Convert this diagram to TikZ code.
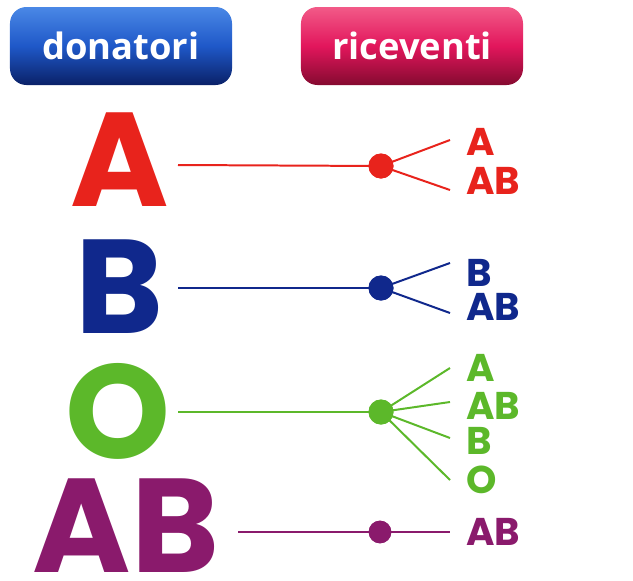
\documentclass[tikz,border=0pt]{standalone}
\usepackage{fontspec}
\setmainfont{Poppins}
\newfontfamily\headfont{Open Sans}
\definecolor{gruppoA}{HTML}{E8231C}
\definecolor{gruppoB}{HTML}{10288C}
\definecolor{gruppoO}{HTML}{5CB82A}
\definecolor{gruppoAB}{HTML}{8A1A6C}
\definecolor{bluchiaro}{HTML}{4A88E6}
\definecolor{blumedio}{HTML}{1F58C8}
\definecolor{bluscuro}{HTML}{0A2168}
\definecolor{rosachiaro}{HTML}{F25A88}
\definecolor{rosamedio}{HTML}{E2165C}
\definecolor{rosascuro}{HTML}{850A30}
\tikzset{
  intestazione/.style={rounded corners=14pt, minimum width=6.66cm, minimum height=2.34cm,
    text=white, font=\headfont\bfseries\fontsize{31}{31}\selectfont},
  donatore/.style={inner sep=0pt, font=\bfseries\fontsize{114}{114}\selectfont},
  ricevente/.style={inner sep=0pt, anchor=west, font=\bfseries\fontsize{33}{33}\selectfont},
  ramo/.style={line width=1.7pt},
  nodo/.style={circle, inner sep=0pt, minimum size=0.75cm}
}
\begin{document}
\begin{tikzpicture}[x=0.03cm, y=-0.03cm]
            \useasboundingbox (0,0) rectangle (633,581);
            \node [intestazione, top color=bluchiaro, bottom color=bluscuro, middle color=blumedio] (donatori) at (121,46) {donatori};
            \node [intestazione, top color=rosachiaro, bottom color=rosascuro, middle color=rosamedio] (riceventi) at (412,46) {riceventi};

            \node [donatore, text=gruppoA] (dA) at (120,160) {A};
            \node [donatore, text=gruppoB] (dB) at (120,287) {B};
            \node [donatore, text=gruppoO] (dO) at (118,411) {O};
            \node [donatore, text=gruppoAB] (dAB) at (126,526) {AB};

            \coordinate (sA) at (178,165);
            \coordinate (sB) at (178,288);
            \coordinate (sO) at (178,412);
            \coordinate (sAB) at (238,532);

            \node [nodo, fill=gruppoA] (jA) at (381,166) {};
            \node [nodo, fill=gruppoB] (jB) at (381,288) {};
            \node [nodo, fill=gruppoO] (jO) at (381,412) {};
            \node [nodo, fill=gruppoAB, minimum size=0.68cm] (jAB) at (380,532) {};

            \coordinate (fA1) at (450,140);
            \coordinate (fA2) at (450,190);
            \coordinate (fB1) at (450,263);
            \coordinate (fB2) at (450,313);
            \coordinate (fO1) at (450,368);
            \coordinate (fO2) at (450,402);
            \coordinate (fO3) at (450,438);
            \coordinate (fO4) at (450,480);
            \coordinate (fAB) at (450,532);

            \draw [ramo, gruppoA] (sA) -- (jA.center) -- (fA1);
            \draw [ramo, gruppoA] (jA.center) -- (fA2);
            \draw [ramo, gruppoB] (sB) -- (jB.center) -- (fB1);
            \draw [ramo, gruppoB] (jB.center) -- (fB2);
            \draw [ramo, gruppoO] (sO) -- (jO.center);
            \foreach \f in {fO1,fO2,fO3,fO4}
                \draw [ramo, gruppoO] (jO.center) -- (\f);
            \draw [ramo, gruppoAB] (sAB) -- (fAB);

            \node [nodo, fill=gruppoA] at (jA) {};
            \node [nodo, fill=gruppoB] at (jB) {};
            \node [nodo, fill=gruppoO] at (jO) {};
            \node [nodo, fill=gruppoAB, minimum size=0.68cm] at (jAB) {};

            \node [ricevente, text=gruppoA] (rA1) at (466,142) {A};
            \node [ricevente, text=gruppoA] (rA2) at (466,181) {AB};
            \node [ricevente, text=gruppoB] (rB1) at (466,273) {B};
            \node [ricevente, text=gruppoB] (rB2) at (466,307) {AB};
            \node [ricevente, text=gruppoO] (rO1) at (466,368) {A};
            \node [ricevente, text=gruppoO] (rO2) at (466,406) {AB};
            \node [ricevente, text=gruppoO] (rO3) at (466,441) {B};
            \node [ricevente, text=gruppoO] (rO4) at (466,480) {O};
            \node [ricevente, text=gruppoAB] (rAB) at (466,532) {AB};
        \end{tikzpicture}
\end{document}
